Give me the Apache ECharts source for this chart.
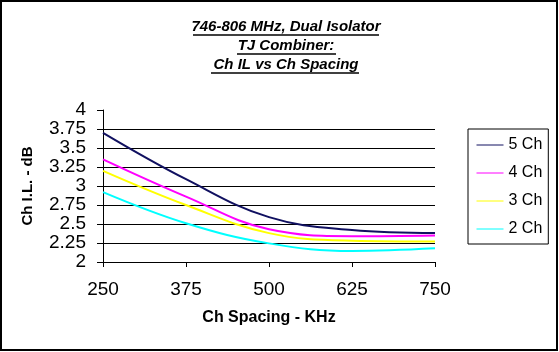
<!DOCTYPE html>
<html>
<head>
<meta charset="utf-8">
<script src="https://cdn.jsdelivr.net/npm/echarts@6/dist/echarts.min.js"></script>
<style>
	body{margin:0;background:#fff;}
	#main{width:559px;height:352px;}
</style>
</head>
<body>
<div id="main"></div>
<script>
	// 数据
	var spacing = [250, 375, 500, 625, 750];
	var yTicks = [2, 2.25, 2.5, 2.75, 3, 3.25, 3.5, 3.75, 4];
	var ch5 = [3.70, 3.09, 2.59, 2.42, 2.38];
	var ch4 = [3.35, 2.86, 2.43, 2.34, 2.35];
	var ch3 = [3.20, 2.75, 2.38, 2.28, 2.27];
	var ch2 = [2.92, 2.51, 2.245, 2.145, 2.18];
	var names = ['5 Ch', '4 Ch', '3 Ch', '2 Ch'];
	var colors = ['#101060', '#ff00ff', '#ffff00', '#00ffff'];

	function pairs(arr){
		var out = [];
		for(var i = 0; i<spacing.length;i++){
			out.push([spacing[i], arr[i]]);
		}
		return out;
	}

	var font = '"Liberation Sans", Arial, sans-serif';
	var myChart = echarts.init(document.getElementById('main'));
	var allData = [ch5, ch4, ch3, ch2];
	var series = [];
	for(var k = 0; k<allData.length;k++){
		series.push({
			name: names[k],
			type: 'line',
			data: pairs(allData[k]),
			smooth: 0.4,
			symbol: 'none',
			lineStyle: {color: colors[k], width: 2},
			itemStyle: {color: colors[k]}
		});
	}

	option = {
		animation: false,
		backgroundColor: '#fff',
		textStyle: {fontFamily: font},
		title: {
			text: '746-806 MHz, Dual Isolator\nTJ Combiner:\nCh IL vs Ch Spacing',
			left: 286,
			top: 17,
			padding: 0,
			textAlign: 'center',
			textStyle: {
				fontSize: 15,
				fontWeight: 'bold',
				fontStyle: 'italic',
				color: '#000',
				lineHeight: 19,
				fontFamily: font
			}
		},
		graphic: [
			{type: 'rect', shape: {x: 1, y: 1, width: 556, height: 349}, style: {fill: 'none', stroke: '#000', lineWidth: 2}},
			{type: 'line', shape: {x1: 193, y1: 35, x2: 379, y2: 35}, style: {stroke: '#000', lineWidth: 1.5}},
			{type: 'line', shape: {x1: 237, y1: 54, x2: 336, y2: 54}, style: {stroke: '#000', lineWidth: 1.5}},
			{type: 'line', shape: {x1: 211, y1: 73, x2: 359, y2: 73}, style: {stroke: '#000', lineWidth: 1.5}}
		],
		legend: {
			orient: 'vertical',
			left: 468,
			top: 129,
			padding: [8, 6, 7, 8],
			itemWidth: 27,
			itemHeight: 16,
			itemGap: 12,
			itemTextGap: 3,
			borderColor: '#000',
			borderWidth: 1,
			data: names,
			itemStyle: {opacity: 0},
			lineStyle: {width: 1},
			textStyle: {fontSize: 16, color: '#000', fontFamily: font}
		},
		grid: {
			left: 103,
			right: 124,
			top: 110,
			bottom: 90
		},
		xAxis: {
			type: 'value',
			min: spacing[0],
			max: spacing[spacing.length - 1],
			interval: 125,
			name: 'Ch Spacing - KHz',
			nameLocation: 'middle',
			nameGap: 48,
			nameTextStyle: {fontSize: 16, fontWeight: 'bold', color: '#000', fontFamily: font},
			axisLine: {lineStyle: {color: '#000', width: 1}},
			axisTick: {show: true, length: 5, lineStyle: {color: '#000'}},
			axisLabel: {fontSize: 19, color: '#000', margin: 18, fontFamily: font},
			splitLine: {show: false}
		},
		yAxis: {
			type: 'value',
			min: yTicks[0],
			max: yTicks[yTicks.length - 1],
			interval: 0.25,
			name: 'Ch I.L. - dB',
			nameLocation: 'middle',
			nameGap: 68,
			nameTextStyle: {fontSize: 15, fontWeight: 'bold', color: '#000', fontFamily: font},
			axisLine: {show: true, lineStyle: {color: '#000', width: 1}},
			axisTick: {show: true, length: 6, lineStyle: {color: '#000'}},
			axisLabel: {fontSize: 19, color: '#000', margin: 17, fontFamily: font},
			splitLine: {show: true, showMaxLine: false, lineStyle: {color: '#000', width: 1}}
		},
		series: series
	};
	myChart.setOption(option);
</script>
</body>
</html>
